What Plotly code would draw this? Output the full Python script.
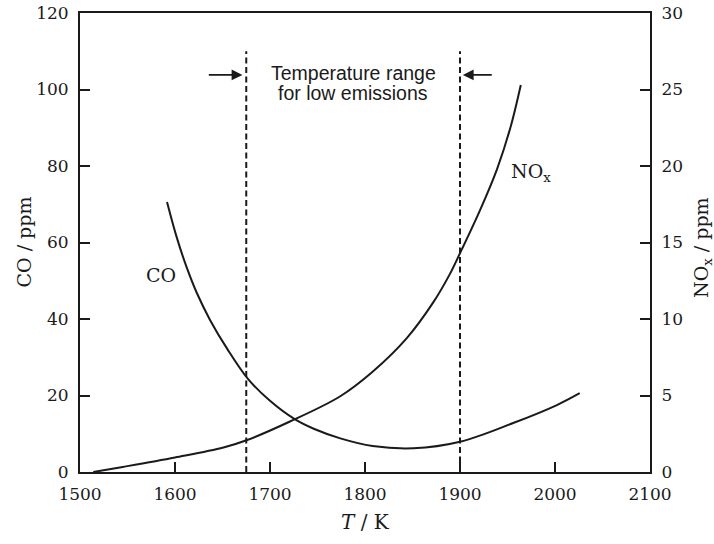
import plotly.graph_objects as go

# ---- data ----
T_co = [1591.6, 1602, 1612.6, 1623, 1637, 1655, 1677, 1700, 1726, 1746, 1774, 1808, 1851, 1900, 1956, 2002, 2026]
co_ppm = [70.6, 61.2, 53.3, 46.8, 39.7, 32.2, 24.3, 18.6, 13.8, 11.3, 8.8, 6.8, 6.2, 7.9, 12.8, 17.5, 20.6]

T_nox = [1514, 1545, 1600, 1651, 1676, 1721, 1774, 1808, 1844, 1872, 1889, 1900, 1921, 1939, 1953, 1964]
nox_ppm = [0.0, 0.33, 0.95, 1.6, 2.09, 3.3, 4.95, 6.55, 8.75, 11.1, 12.9, 14.3, 17.1, 19.8, 22.5, 25.3]

range_T = [1675, 1900]          # temperature range for low emissions
range_line_top = 110            # CO ppm
arrow_y = 103.8                 # CO ppm
arrow_left = [1634, 1671]       # tail, head
arrow_right = [1935, 1903]      # tail, head
range_text = ["Temperature range", "for low emissions"]
range_text_y = [104.4, 99.2]    # CO ppm

x_ticks = [1500, 1600, 1700, 1800, 1900, 2000, 2100]
co_ticks = [0, 20, 40, 60, 80, 100, 120]
nox_ticks = [0, 5, 10, 15, 20, 25, 30]

INK = "#1a1a1a"
SERIF = "DejaVu Serif"
SANS = "Liberation Sans"

fig = go.Figure()
fig.add_trace(go.Scatter(x=T_co, y=co_ppm, mode="lines", line=dict(color=INK, width=2, shape="spline"),
                         showlegend=False, hoverinfo="skip"))
fig.add_trace(go.Scatter(x=T_nox, y=nox_ppm, mode="lines", yaxis="y2",
                         line=dict(color=INK, width=2, shape="spline"),
                         showlegend=False, hoverinfo="skip"))

shapes = []
for t in range_T:
    shapes.append(dict(type="line", xref="x", yref="y", x0=t, x1=t, y0=0, y1=range_line_top,
                       line=dict(color=INK, width=2, dash="6px,3.5px")))

annotations = [
    dict(x=arrow_left[1], y=arrow_y, ax=arrow_left[0], ay=arrow_y, xref="x", yref="y", axref="x", ayref="y",
         text="", showarrow=True, arrowhead=2, arrowsize=1.2, arrowwidth=1.8, arrowcolor=INK),
    dict(x=arrow_right[1], y=arrow_y, ax=arrow_right[0], ay=arrow_y, xref="x", yref="y", axref="x", ayref="y",
         text="", showarrow=True, arrowhead=2, arrowsize=1.2, arrowwidth=1.8, arrowcolor=INK),
    dict(x=1603, y=51.5, xref="x", yref="y", text="CO", showarrow=False, xanchor="right",
         font=dict(family=SERIF, size=19, color=INK)),
    dict(x=1952, y=19.6, xref="x", yref="y2", text="NO<sub>x</sub>", showarrow=False, xanchor="left",
         font=dict(family=SERIF, size=19, color=INK)),
    dict(x=0.5, y=-0.109, xref="paper", yref="paper", text="<i>T</i> / K", showarrow=False,
         font=dict(family=SERIF, size=20, color=INK), yanchor="middle"),
    dict(x=-0.1, y=0.5, xref="paper", yref="paper", text="CO / ppm", showarrow=False, textangle=-90,
         font=dict(family=SERIF, size=19, color=INK), xanchor="center", yanchor="middle"),
    dict(x=1.091, y=0.49, xref="paper", yref="paper", text="NO<sub>x</sub> / ppm", showarrow=False,
         textangle=-90, font=dict(family=SERIF, size=19, color=INK), xanchor="center", yanchor="middle"),
]
for txt, yv in zip(range_text, range_text_y):
    annotations.append(dict(x=(range_T[0] + range_T[1]) / 2, y=yv, xref="x", yref="y", text=txt,
                            showarrow=False, font=dict(family=SANS, size=19.5, color=INK)))

axis_common = dict(showline=True, linecolor=INK, linewidth=2, ticks="inside", ticklen=10, tickwidth=2,
                   tickcolor=INK, showgrid=False, zeroline=False, automargin=False,
                   ticklabelstandoff=6, tickfont=dict(family=SERIF, size=17, color=INK))

fig.update_layout(
    width=714, height=544,
    margin=dict(l=80, r=64, t=13, b=72, autoexpand=False),
    paper_bgcolor="white", plot_bgcolor="white",
    xaxis=dict(range=[1500, 2100], tickvals=x_ticks, mirror=True, **axis_common),
    yaxis=dict(range=[0, 120], tickvals=co_ticks, **axis_common),
    yaxis2=dict(range=[0, 30], tickvals=nox_ticks, overlaying="y", side="right", **axis_common),
    shapes=shapes, annotations=annotations,
)

fig.write_html("out.html", config={"displayModeBar": False},
               post_script="document.body.style.margin='0';")
